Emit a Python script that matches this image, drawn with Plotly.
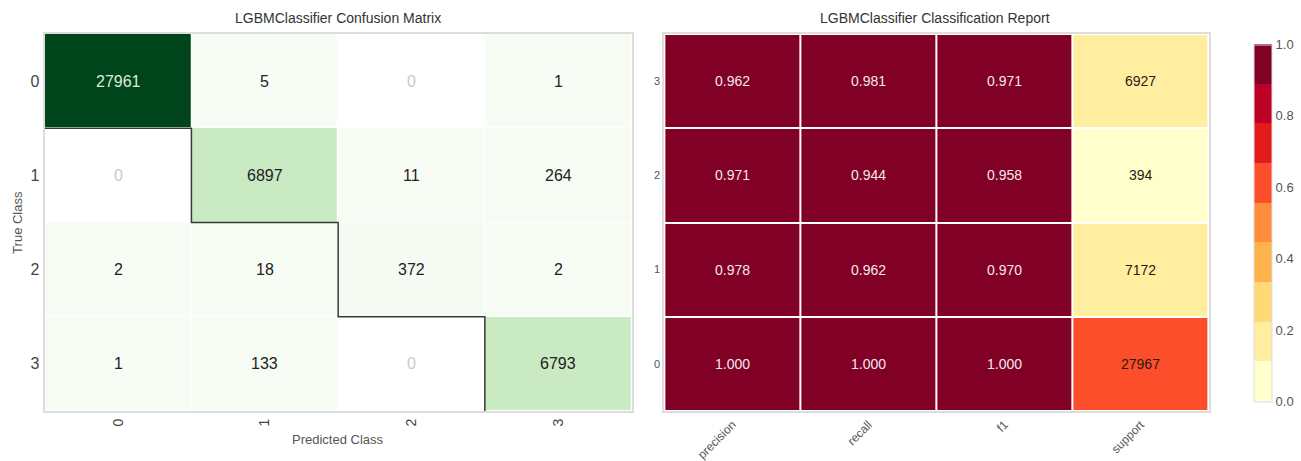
import plotly.graph_objects as go

# ---- data -------------------------------------------------------------
classes = ["0", "1", "2", "3"]

# confusion matrix: rows = true class, columns = predicted class
confusion = [
    [27961, 5, 0, 1],
    [0, 6897, 11, 264],
    [2, 18, 372, 2],
    [1, 133, 0, 6793],
]

metrics = ["precision", "recall", "f1", "support"]
precision = [1.000, 0.978, 0.971, 0.962]
recall = [1.000, 0.962, 0.944, 0.981]
f1 = [1.000, 0.970, 0.958, 0.971]
support = [27967, 7172, 394, 6927]

FONT = "Liberation Sans Narrow, Liberation Sans, Arial, sans-serif"
W, H = 1301, 461

# YlOrRd, 9 discrete bands
ylorrd9 = ["#ffffcc", "#ffeda0", "#fed976", "#feb24c", "#fd8d3c",
           "#fc4e2a", "#e31a1c", "#bd0026", "#800026"]
disc_scale = []
for i, c in enumerate(ylorrd9):
    disc_scale.append([i / 9, c])
    disc_scale.append([(i + 1) / 9, c])

# matplotlib-style Greens
greens = [[0.0, "#f7fcf5"], [0.125, "#e5f5e0"], [0.25, "#c7e9c0"],
          [0.375, "#a1d99b"], [0.5, "#74c476"], [0.625, "#41ab5d"],
          [0.75, "#238b45"], [0.875, "#006d2c"], [1.0, "#00441b"]]

n = len(classes)
xs = list(range(n))

fig = go.Figure()

# ---- confusion matrix -------------------------------------------------
cm_max = max(max(r) for r in confusion)
z_cm = [[v if v != 0 else None for v in row] for row in confusion]
fig.add_trace(go.Heatmap(
    z=z_cm, x=xs, y=xs, colorscale=greens, zmin=0, zmax=cm_max,
    showscale=False, xgap=1, ygap=1, xaxis="x", yaxis="y",
    hoverongaps=False,
))

annotations = []
for i, row in enumerate(confusion):
    for j, v in enumerate(row):
        if v == 0:
            col = "#c9c9c9"
        elif v / cm_max > 0.6:
            col = "#d9eed3"
        else:
            col = "#222222"
        annotations.append(dict(
            x=j, y=i, xref="x", yref="y", text=str(v), showarrow=False,
            font=dict(family=FONT, size=16, color=col)))

# staircase border under the diagonal
sx, sy = [-0.5], [0.5]
for i in range(n - 1):
    sx += [i + 0.5, i + 0.5]
    sy += [i + 0.5, i + 1.5]
fig.add_trace(go.Scatter(
    x=sx, y=sy, mode="lines", line=dict(color="#3a3a3a", width=1.5),
    xaxis="x", yaxis="y", showlegend=False, hoverinfo="skip"))

# ---- classification report -------------------------------------------
total = sum(support)
z_rep, t_rep = [], []
for k in range(n):
    z_rep.append([precision[k], recall[k], f1[k], support[k] / total])
    t_rep.append([f"{precision[k]:.3f}", f"{recall[k]:.3f}",
                  f"{f1[k]:.3f}", str(support[k])])

fig.add_trace(go.Heatmap(
    z=z_rep, x=list(range(len(metrics))), y=xs,
    colorscale=disc_scale, zmin=0, zmax=1, xgap=2, ygap=2,
    xaxis="x2", yaxis="y2",
    colorbar=dict(
        x=1253 / W, xanchor="left", y=1 - 223 / H, yanchor="middle",
        len=377 / H, lenmode="fraction", thickness=18,
        outlinecolor="#dddddd", outlinewidth=1,
        tickvals=[0, 0.2, 0.4, 0.6, 0.8, 1.0],
        ticktext=["0.0", "0.2", "0.4", "0.6", "0.8", "1.0"],
        ticks="", tickfont=dict(family=FONT, size=13, color="#555555"),
    ),
))

for k in range(n):
    for j in range(len(metrics)):
        col = "#f4e8ea" if z_rep[k][j] > 0.8 else "#2a1a10"
        annotations.append(dict(
            x=j, y=k, xref="x2", yref="y2", text=t_rep[k][j], showarrow=False,
            font=dict(family=FONT, size=14, color=col)))

# ---- titles and axis labels ------------------------------------------
title_font = dict(family=FONT, size=14, color="#333333")
annotations += [
    dict(x=340 / W, y=1 - 18 / H, xref="paper", yref="paper",
         xanchor="center", yanchor="middle",
         text="LGBMClassifier Confusion Matrix", showarrow=False, font=title_font),
    dict(x=942 / W, y=1 - 18 / H, xref="paper", yref="paper",
         xanchor="center", yanchor="middle",
         text="LGBMClassifier Classification Report", showarrow=False, font=title_font),
    dict(x=340 / W, y=1 - 439 / H, xref="paper", yref="paper",
         xanchor="center", yanchor="middle",
         text="Predicted Class", showarrow=False,
         font=dict(family=FONT, size=13, color="#555555")),
    dict(x=17 / W, y=1 - 222 / H, xref="paper", yref="paper",
         xanchor="center", yanchor="middle",
         text="True Class", showarrow=False, textangle=-90,
         font=dict(family=FONT, size=13, color="#555555")),
]

frame = dict(showline=True, mirror=True, linecolor="#dddddd", linewidth=2,
             showgrid=False, zeroline=False, ticks="")

fig.update_layout(
    width=W, height=H, margin=dict(l=0, r=0, t=0, b=0),
    paper_bgcolor="white", plot_bgcolor="white",
    showlegend=False, annotations=annotations,
    xaxis=dict(domain=[45 / W, 636 / W], range=[-0.5, n - 0.5],
               tickvals=xs, ticktext=classes, tickangle=-90,
               tickfont=dict(family=FONT, size=14, color="#444444"),
               anchor="y", **frame),
    yaxis=dict(domain=[1 - 411 / H, 1 - 34 / H], range=[n - 0.5, -0.5],
               tickvals=xs, ticktext=classes,
               tickfont=dict(family=FONT, size=16, color="#444444"),
               anchor="x", **frame),
    xaxis2=dict(domain=[669 / W, 1217 / W], range=[-0.5, len(metrics) - 0.5],
                tickvals=list(range(len(metrics))), ticktext=metrics, tickangle=-45,
                tickfont=dict(family=FONT, size=12, color="#555555"),
                anchor="y2", **frame),
    yaxis2=dict(domain=[1 - 411 / H, 1 - 34 / H], range=[-0.5, n - 0.5],
                tickvals=xs, ticktext=classes,
                tickfont=dict(family=FONT, size=11, color="#555555"),
                anchor="x2", **frame),
)

fig.write_html("out.html")
